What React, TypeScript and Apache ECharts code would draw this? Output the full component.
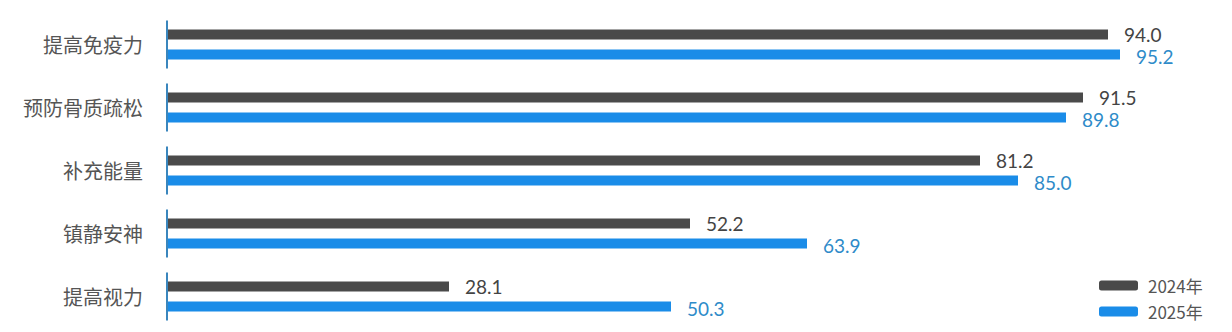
import React, { useEffect, useRef } from "react";
import * as echarts from "echarts";

const categories = ["提高免疫力", "预防骨质疏松", "补充能量", "镇静安神", "提高视力"];
const seriesNames = ["2024年", "2025年"];
const values2024 = [94.0, 91.5, 81.2, 52.2, 28.1];
const values2025 = [95.2, 89.8, 85.0, 63.9, 50.3];

export default function App() {
  const ref = useRef<HTMLDivElement>(null);
  useEffect(() => {
    document.body.style.margin = "0";
    const chart = echarts.init(ref.current!, null, { renderer: "svg" });
    const gray = "#4a4a4a";
    const blue = "#1a8ce8";
    chart.setOption({
      animation: false,
      grid: { left: 168, right: 64, top: 13, height: 315 },
      legend: {
        orient: "vertical",
        left: 1094,
        top: 272,
        itemWidth: 39,
        itemHeight: 10,
        itemGap: 9,
        data: seriesNames,
        textStyle: {
          fontSize: 17,
          color: "#555",
          fontFamily: "Noto Sans CJK SC",
          padding: [0, 0, 0, 5],
        },
      },
      xAxis: { type: "value", min: 0, max: 100, show: false },
      yAxis: {
        type: "category",
        data: categories,
        inverse: true,
        axisLine: { show: false },
        axisTick: { show: false },
        axisLabel: {
          margin: 25,
          fontSize: 20,
          color: "#555",
          fontFamily: "Noto Sans CJK SC",
        },
      },
      series: [
        {
          type: "custom",
          silent: true,
          data: categories.map((_, i) => [0, i]),
          encode: { x: 0, y: 1 },
          renderItem: (params: any, api: any) => {
            const p = api.coord([0, api.value(1)]);
            const h = api.size([0, 1])[1];
            return {
              type: "line",
              shape: { x1: p[0] - 1, y1: p[1] - h * 0.38, x2: p[0] - 1, y2: p[1] + h * 0.38 },
              style: { stroke: "#3a86bd", lineWidth: 2 },
            };
          },
          z: 5,
        },
        {
          name: seriesNames[0],
          type: "bar",
          data: values2024,
          barWidth: 10,
          barGap: "100%",
          itemStyle: { color: gray },
          label: {
            show: true,
            position: "right",
            distance: 16,
            fontSize: 19,
            lineHeight: 16,
            offset: [0, 0],
            color: "#444",
            fontFamily: "Lato",
            formatter: (p: any) => p.value.toFixed(1),
          },
        },
        {
          name: seriesNames[1],
          type: "bar",
          data: values2025,
          barWidth: 10,
          barGap: "100%",
          itemStyle: { color: blue },
          label: {
            show: true,
            position: "right",
            distance: 16,
            fontSize: 19,
            lineHeight: 16,
            offset: [0, 2],
            color: "#2e8bc9",
            fontFamily: "Lato",
            formatter: (p: any) => p.value.toFixed(1),
          },
        },
      ],
    });
    return () => chart.dispose();
  }, []);
  return <div ref={ref} style={{ width: 1232, height: 332 }} />;
}
